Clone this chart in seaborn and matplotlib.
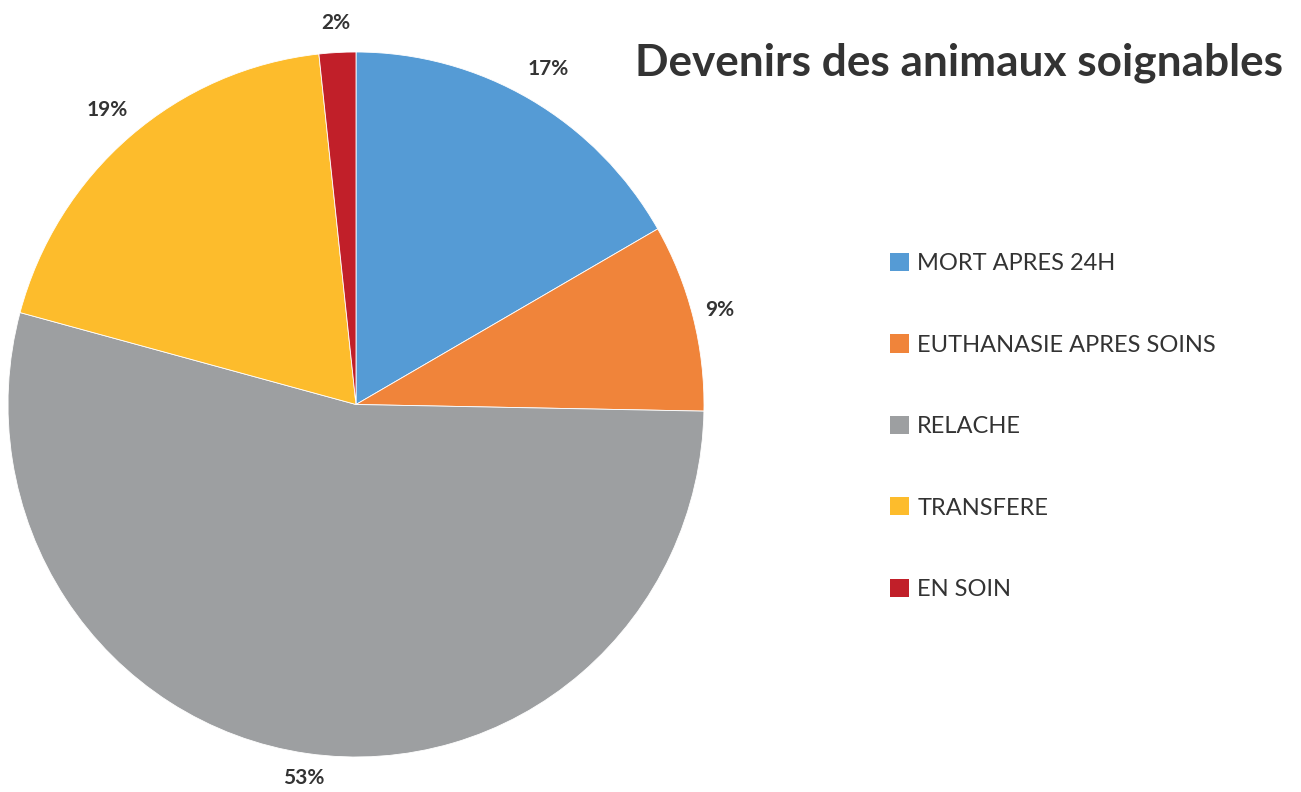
import matplotlib
matplotlib.use("Agg")
import matplotlib.pyplot as plt
import numpy as np
import seaborn as sns
from matplotlib.patches import Patch

categories = ["MORT APRES 24H", "EUTHANASIE APRES SOINS", "RELACHE", "TRANSFERE", "EN SOIN"]
values = [16.7, 8.6, 53.9, 19.1, 1.7]
pct_labels = ["17%", "9%", "53%", "19%", "2%"]
colors = ["#559BD5", "#F0843A", "#9D9FA1", "#FDBC2C", "#C11F29"]
title = "Devenirs des animaux soignables"

sns.set_theme(style="white")
plt.rcParams["font.family"] = ["Lato", "DejaVu Sans"]
text_color = "#333333"

fig = plt.figure(figsize=(13.01, 7.92), dpi=100)
ax = fig.add_axes([8 / 1301, (792 - 757) / 792, 696 / 1301, 705 / 792])

wedges, texts = ax.pie(values, colors=colors, startangle=90, counterclock=False,
                       wedgeprops=dict(edgecolor="white", linewidth=0.6))
label_r = [1.1, 1.08, 1.07, 1.1, 1.085]
for w, lab, r in zip(wedges, pct_labels, label_r):
    ang = np.deg2rad((w.theta1 + w.theta2) / 2)
    ax.text(r * np.cos(ang), r * np.sin(ang), lab, ha="center", va="center",
            fontsize=15, fontweight="bold", color=text_color, clip_on=False)
ax.set_xlim(-1, 1)
ax.set_ylim(-1, 1)
ax.set_aspect("auto")
ax.axis("off")

fig.text(1283 / 1301, 1 - 63 / 792, title, ha="right", va="center",
         fontsize=31.8, fontweight="bold", color=text_color)

handles = [Patch(facecolor=c, edgecolor="none") for c in colors]
leg = fig.legend(handles, categories, loc="upper left",
                 bbox_to_anchor=(890 / 1301, 1 - 253 / 792),
                 frameon=False, fontsize=17, handlelength=0.8, handleheight=0.8,
                 handletextpad=0.35, labelspacing=2.55, borderpad=0, borderaxespad=0)
for t in leg.get_texts():
    t.set_color(text_color)

fig.savefig("out.png", dpi=100)
